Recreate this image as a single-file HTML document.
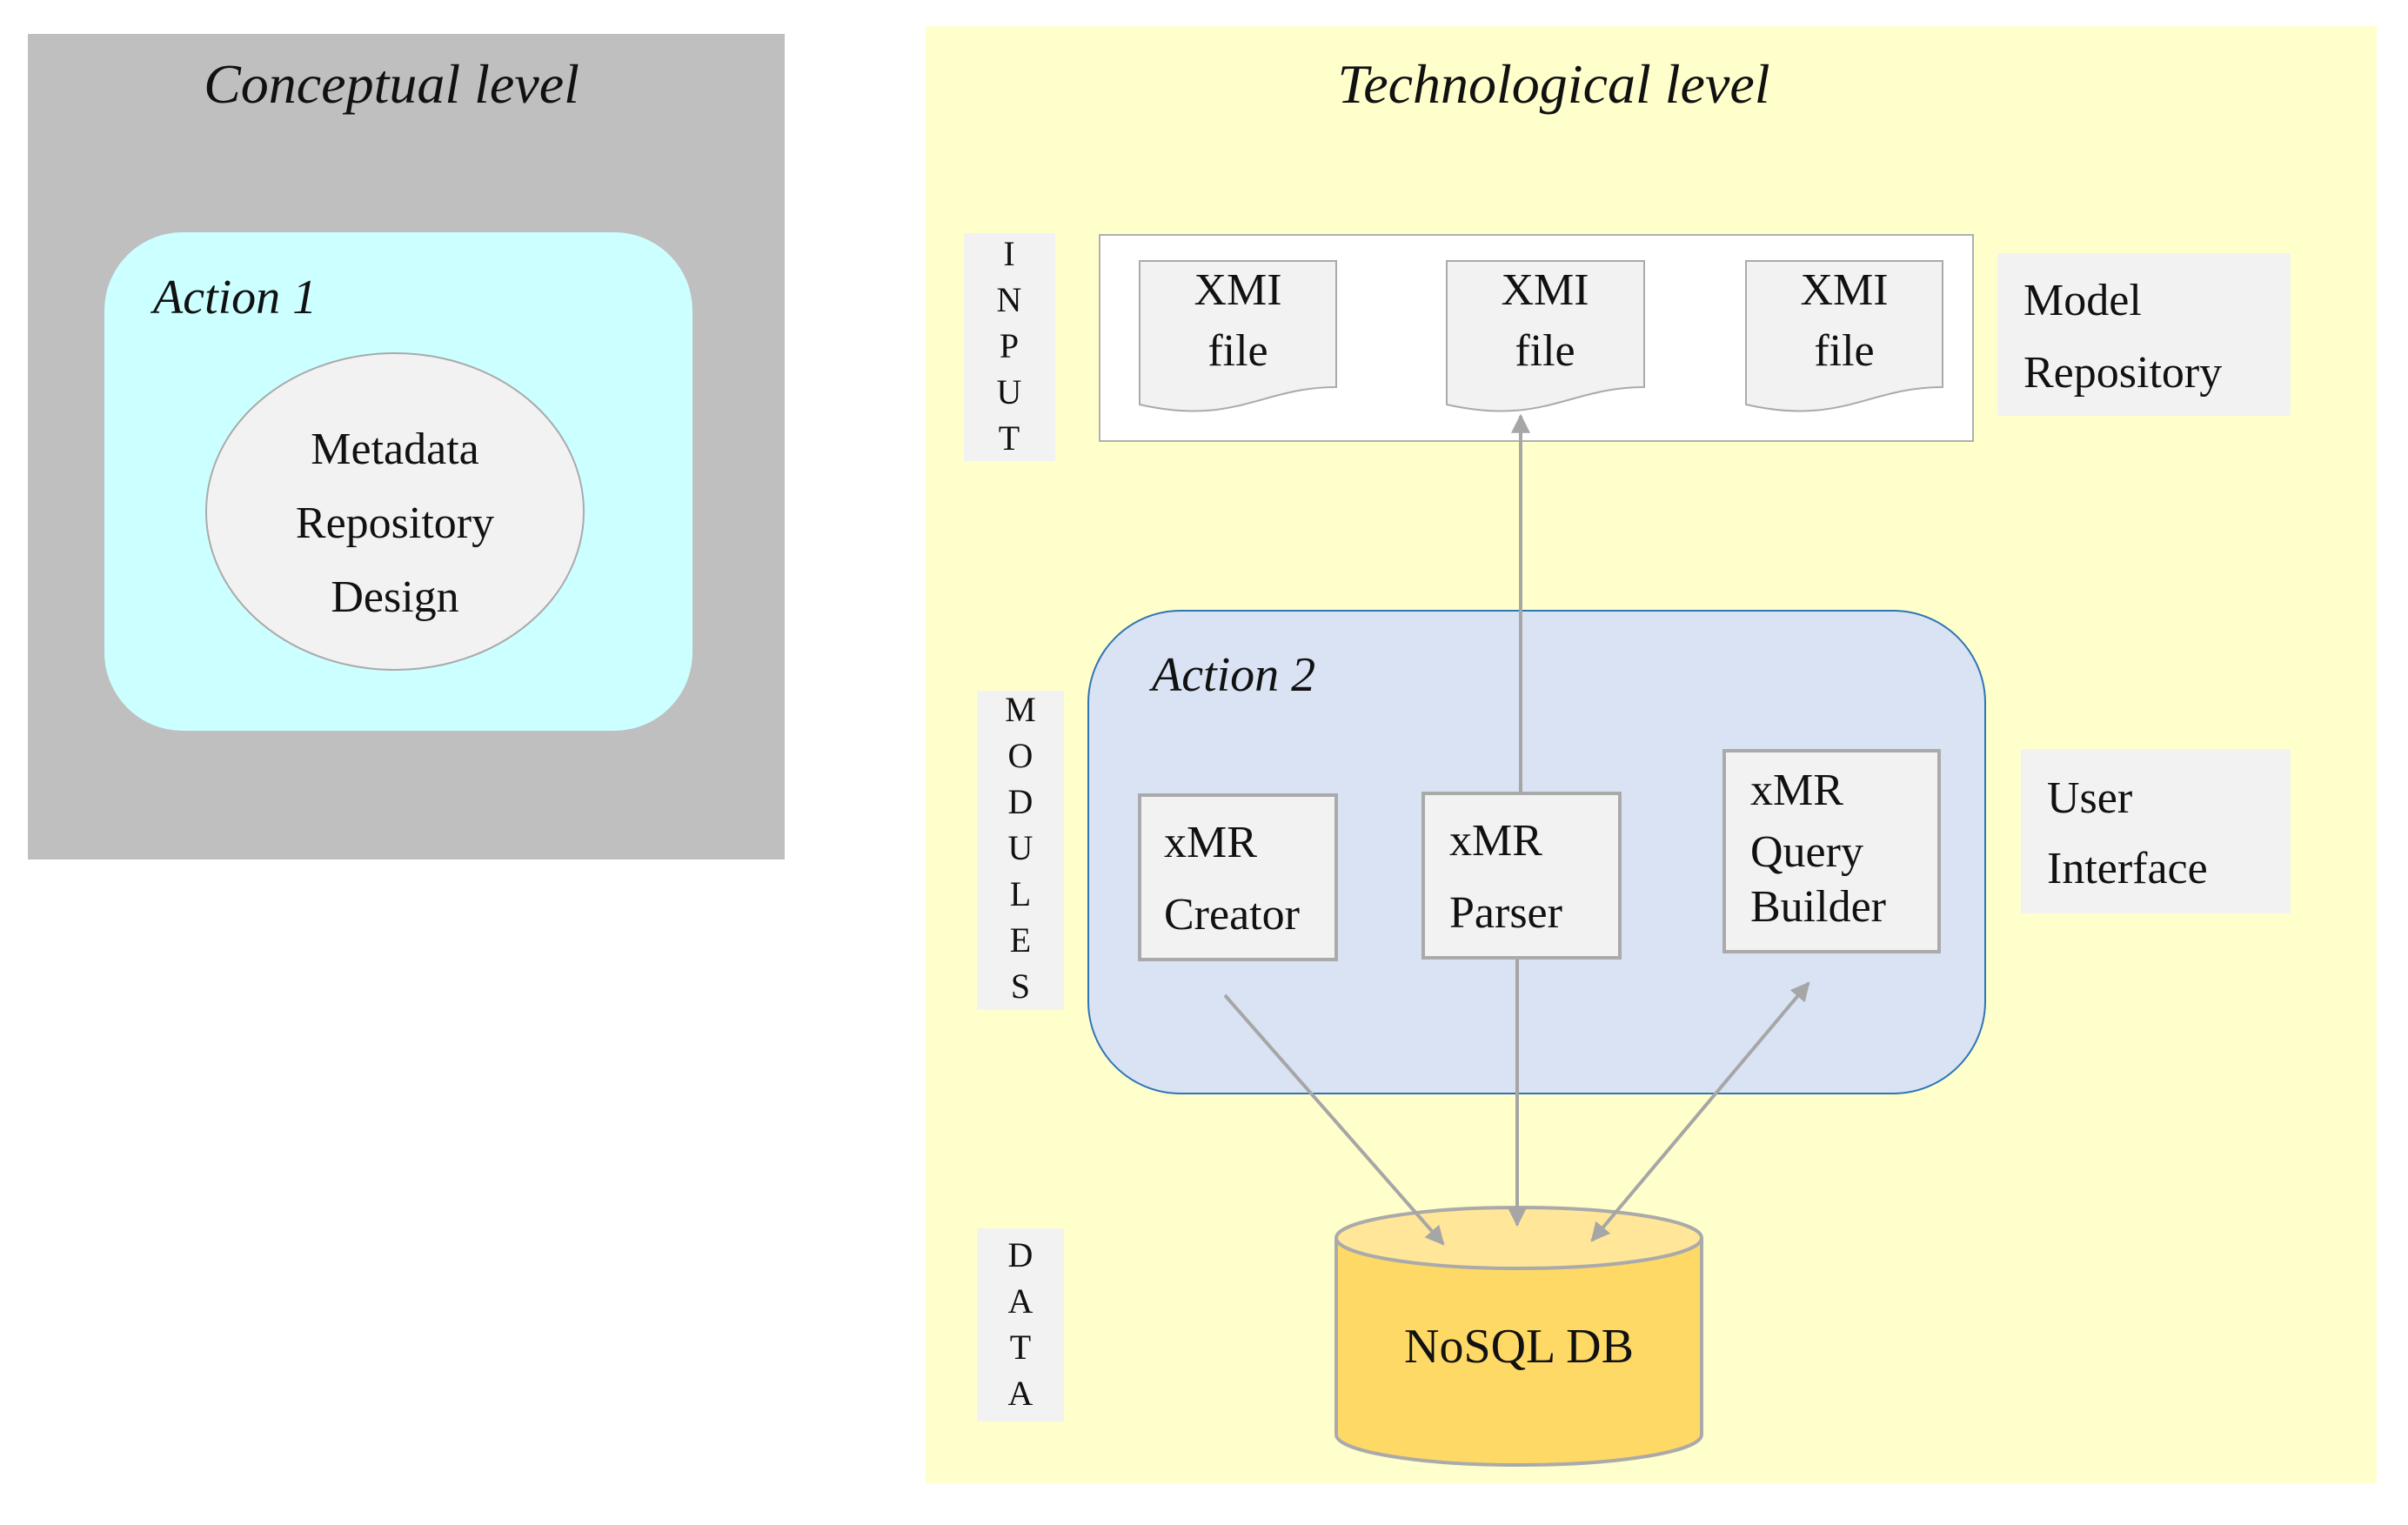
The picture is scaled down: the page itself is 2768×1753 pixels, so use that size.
<!DOCTYPE html>
<html><head><meta charset="utf-8"><style>
html,body{margin:0;padding:0;background:#fff;}
svg text{font-family:"Liberation Serif",serif;fill:#111;}
</style></head><body>
<svg width="2768" height="1748" viewBox="0 0 2768 1748" xmlns="http://www.w3.org/2000/svg">
<defs>
<marker id="ah" viewBox="0 0 10 10" refX="9" refY="5" markerWidth="7" markerHeight="7" orient="auto-start-reverse" markerUnits="userSpaceOnUse" >
<path d="M0,0 L10,5 L0,10 z" fill="#a6a6a6"/></marker>
<marker id="a" viewBox="0 0 10 10" refX="9" refY="5" markerWidth="24" markerHeight="22" orient="auto-start-reverse" markerUnits="userSpaceOnUse">
<path d="M0,0 L10,5 L0,10 z" fill="#a6a6a6"/></marker>
</defs>
<rect width="2768" height="1748" fill="#fff"/>
<!-- Conceptual -->
<rect x="32" y="39" width="870" height="949" fill="#bfbfbf"/>
<text x="450" y="118" font-size="64" font-style="italic" text-anchor="middle">Conceptual level</text>
<rect x="120" y="267" width="676" height="573" rx="90" fill="#ccffff"/>
<text x="176" y="360" font-size="56" font-style="italic">Action 1</text>
<ellipse cx="454" cy="588" rx="217" ry="182" fill="#f2f2f2" stroke="#aaa" stroke-width="2"/>
<g font-size="52" text-anchor="middle">
<text x="454" y="533">Metadata</text><text x="454" y="618">Repository</text><text x="454" y="703">Design</text></g>
<!-- Technological -->
<rect x="1064" y="30" width="1668" height="1675" fill="#ffffcc"/>
<text x="1786" y="118" font-size="64" font-style="italic" text-anchor="middle">Technological level</text>
<rect x="1108" y="268" width="105" height="262" fill="#f2f2f2"/>
<g font-size="40" text-anchor="middle">
<text x="1160" y="305">I</text><text x="1160" y="358">N</text><text x="1160" y="411">P</text><text x="1160" y="464">U</text><text x="1160" y="517">T</text></g>
<rect x="1264" y="270" width="1004" height="237" fill="#fff" stroke="#b0b0b0" stroke-width="2"/>
<g fill="#f2f2f2" stroke="#aaa" stroke-width="2">
<path d="M1310,300 H1536 V445 C1450,445 1420,490 1310,465 Z"/>
<path d="M1663,300 H1890 V445 C1804,445 1774,490 1663,465 Z"/>
<path d="M2007,300 H2233 V445 C2147,445 2117,490 2007,465 Z"/>
</g>
<g font-size="52" text-anchor="middle">
<text x="1423" y="350">XMI</text><text x="1423" y="420">file</text>
<text x="1776" y="350">XMI</text><text x="1776" y="420">file</text>
<text x="2120" y="350">XMI</text><text x="2120" y="420">file</text></g>
<rect x="2296" y="291" width="337" height="187" fill="#f2f2f2"/>
<g font-size="52"><text x="2326" y="362">Model</text><text x="2326" y="445">Repository</text></g>
<rect x="1251" y="702" width="1031" height="555" rx="106" fill="#dae3f3" stroke="#2e75b6" stroke-width="2"/>
<text x="1324" y="794" font-size="56" font-style="italic">Action 2</text>
<rect x="1123" y="794" width="100" height="367" fill="#f2f2f2"/>
<g font-size="40" text-anchor="middle">
<text x="1173" y="829">M</text><text x="1173" y="882">O</text><text x="1173" y="935">D</text><text x="1173" y="988">U</text><text x="1173" y="1041">L</text><text x="1173" y="1094">E</text><text x="1173" y="1147">S</text></g>
<g fill="#f2f2f2" stroke="#aaa" stroke-width="4">
<rect x="1310" y="914" width="226" height="189"/>
<rect x="1636" y="912" width="226" height="189"/>
<rect x="1982" y="863" width="247" height="231"/></g>
<g font-size="52">
<text x="1338" y="985">xMR</text><text x="1338" y="1068">Creator</text>
<text x="1666" y="983">xMR</text><text x="1666" y="1066">Parser</text>
<text x="2012" y="925">xMR</text><text x="2012" y="996">Query</text><text x="2012" y="1059">Builder</text></g>
<rect x="2323" y="861" width="310" height="189" fill="#f2f2f2"/>
<g font-size="52"><text x="2353" y="934">User</text><text x="2353" y="1015">Interface</text></g>
<rect x="1123" y="1412" width="100" height="222" fill="#f2f2f2"/>
<g font-size="40" text-anchor="middle">
<text x="1173" y="1456">D</text><text x="1173" y="1509">A</text><text x="1173" y="1562">T</text><text x="1173" y="1615">A</text></g>
<!-- cylinder -->
<path d="M1536,1423 V1649 A210,35 0 0 0 1956,1649 V1423" fill="#ffd966" stroke="#aaa" stroke-width="4"/>
<ellipse cx="1746" cy="1423" rx="210" ry="35" fill="#ffe699" stroke="#aaa" stroke-width="4"/>
<text x="1746" y="1566" font-size="56" text-anchor="middle">NoSQL DB</text>
<!-- arrows -->
<g stroke="#a6a6a6" stroke-width="4" fill="none">
<line x1="1748" y1="912" x2="1748" y2="478" marker-end="url(#a)"/>
<line x1="1744" y1="1103" x2="1744" y2="1408" marker-end="url(#a)"/>
<line x1="1408" y1="1144" x2="1659" y2="1430" marker-end="url(#a)"/>
<line x1="1830" y1="1426" x2="2079" y2="1130" marker-start="url(#a)" marker-end="url(#a)"/>
</g>
</svg>
</body></html>
